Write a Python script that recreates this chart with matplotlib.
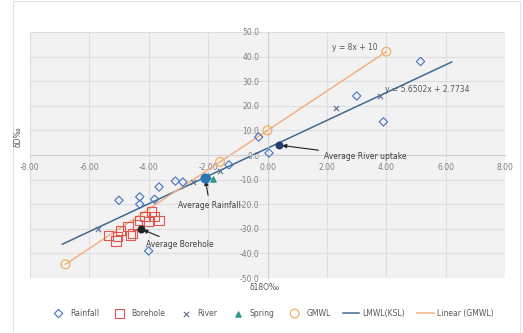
import numpy as np
from matplotlib import pyplot as plt
from matplotlib.patches import Rectangle

plt.rcParams['axes.unicode_minus'] = False
plt.rcParams['font.family'] = ['DejaVu Sans']

# data (d18O, dD)
rain_x = [5.15, 3.0, 3.9, -0.3, 0.05, -5.0, -4.3, -3.65, -4.0, -3.1, -2.85, -3.8, -4.3, -1.3]
rain_y = [38.0, 24.0, 13.5, 7.3, 0.8, -18.4, -17.0, -13.0, -39.0, -10.6, -11.0, -18.0, -20.0, -4.0]
bore_x = [-5.35, -5.1, -4.95, -4.7, -4.55, -4.3, -4.15, -4.0, -3.8, -3.65, -5.05, -4.6, -4.37, -3.9]
bore_y = [-32.6, -35.0, -30.6, -29.0, -31.8, -26.5, -25.0, -27.0, -25.0, -26.5, -33.0, -32.6, -28.5, -23.0]
river_x = [2.3, 3.8, -5.7, -2.5, -1.6]
river_y = [19.0, 24.0, -30.0, -10.8, -6.5]
spring_x = [-2.0, -1.85]
spring_y = [-8.5, -9.8]
gmwl_x = [-6.8, -1.6, 0.0, 4.0]
gmwl_y = [-44.4, -2.8, 10.0, 42.0]
avg_river = (0.4, 4.0)
avg_rain = (-2.1, -9.4)
avg_bore = (-4.27, -30.0)
lmwl_a, lmwl_b = 5.6502, 2.7734
lmwl_range = [-6.9, 6.2]

fig = plt.figure(figsize=(5.23, 3.33), dpi=100)
fig.patches.append(Rectangle((0.025, 0.0), 0.97, 0.998, transform=fig.transFigure,
                             fill=False, edgecolor='#e4e4e4', lw=0.8))
ax = fig.add_axes([0.057, 0.165, 0.909, 0.739])
ax.set_facecolor('#f2f2f2')
ax.set_xlim(-8, 8)
ax.set_ylim(-50, 50)
ax.set_xticks(np.arange(-8, 8.1, 2))
ax.set_yticks(np.arange(-50, 50.1, 10))
ax.xaxis.set_major_formatter(plt.FormatStrFormatter('%.2f'))
ax.yaxis.set_major_formatter(plt.FormatStrFormatter('%.1f'))
ax.grid(True, color='#dedede', lw=0.8)
ax.set_axisbelow(True)
for s in ['top', 'right']:
    ax.spines[s].set_visible(False)
ax.spines['left'].set_position(('data', 0))
ax.spines['bottom'].set_position(('data', 0))
ax.spines['left'].set_color('#d0d0d0')
ax.spines['bottom'].set_color('#d0d0d0')
ax.tick_params(length=0, labelsize=5.5, labelcolor='#808080', pad=6)

ax.scatter(rain_x, rain_y, marker='D', s=18, facecolors='none', edgecolors='#4472c4', lw=0.8, label='Rainfall', zorder=3)
ax.scatter(bore_x, bore_y, marker='s', s=45, facecolors='none', edgecolors='#e0574f', lw=0.8, label='Borehole', zorder=3)
ax.scatter(river_x, river_y, marker='x', s=14, color='#5b6f8f', lw=0.8, label='River', zorder=3)
ax.scatter(spring_x, spring_y, marker='^', s=14, color='#2e9c8a', label='Spring', zorder=3)
ax.scatter(gmwl_x, gmwl_y, marker='o', s=40, facecolors='none', edgecolors='#f0b060', lw=0.9, label='GMWL', zorder=3)

lx = np.array(lmwl_range)
ax.plot(lx, lmwl_a * lx + lmwl_b, color='#3f6a93', lw=1.1, label='LMWL(KSL)', zorder=2)
gx = np.array([min(gmwl_x), max(gmwl_x)])
ax.plot(gx, 8 * gx + 10, color='#f4b183', lw=1.1, label='Linear (GMWL)', zorder=2)

ax.scatter([avg_river[0]], [avg_river[1]], marker='o', s=22, color='#1f3f6e', zorder=4)
ax.scatter([avg_rain[0]], [avg_rain[1]], marker='o', s=40, color='#2e75b6', zorder=4)
ax.scatter([avg_bore[0]], [avg_bore[1]], marker='o', s=22, color='#222222', zorder=4)

ax.annotate('Average River uptake', xy=avg_river, xytext=(1.9, -1.5), fontsize=5.5, color='#404040',
            arrowprops=dict(arrowstyle='-|>', color='#222222', lw=0.8, mutation_scale=6))
ax.annotate('Average Rainfall', xy=avg_rain, xytext=(-3.0, -21.5), fontsize=5.5, color='#404040',
            arrowprops=dict(arrowstyle='-|>', color='#222222', lw=0.8, mutation_scale=6))
ax.annotate('Average Borehole', xy=avg_bore, xytext=(-4.1, -37.5), fontsize=5.5, color='#404040',
            arrowprops=dict(arrowstyle='-|>', color='#222222', lw=0.8, mutation_scale=6))
ax.text(3.7, 43.5, 'y = 8x + 10', fontsize=5.5, color='#595959', ha='right', va='center')
ax.text(3.95, 26.5, 'y = 5.6502x + 2.7734', fontsize=5.5, color='#595959', ha='left', va='center')

fig.text(0.507, 0.128, 'δ18O‰', fontsize=5.5, color='#595959', ha='center')
fig.text(0.035, 0.59, 'δD‰', fontsize=5.5, color='#595959', rotation=90, ha='center', va='center')

fig.legend(loc='center', bbox_to_anchor=(0.52, 0.06), ncol=7, frameon=False, fontsize=5.5,
           handlelength=2.2, columnspacing=1.6, handletextpad=0.4, labelcolor='#595959')

fig.savefig('out.png', dpi=100)
